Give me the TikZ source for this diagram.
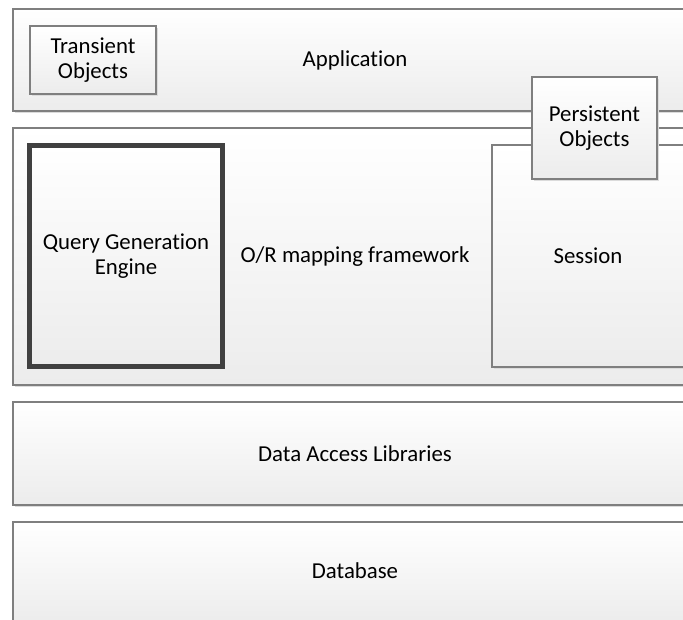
\documentclass[tikz,border=0pt]{standalone}
\usepackage{fontspec}
\setmainfont{Carlito}[Ligatures={NoCommon,NoContextual}]
\usetikzlibrary{shadows}
\definecolor{bord}{HTML}{7F7F7F}
\definecolor{qge}{HTML}{404040}
\definecolor{fillbot}{HTML}{ECECEC}
\tikzset{
  layer/.style={draw=bord, line width=1.2pt, top color=white, bottom color=fillbot,
    inner sep=0pt, outer sep=0pt, align=center,
    drop shadow={shadow xshift=2pt, shadow yshift=-2pt, fill=black!14, opacity=1}},
  thickbox/.style={layer, draw=qge, line width=5pt},
  lbl/.style={align=center, inner sep=0pt},
}
\begin{document}
\begin{tikzpicture}[x=1pt, y=-1pt, font=\fontsize{22.8}{25}\selectfont]
\useasboundingbox (0,0) rectangle (683,620);
\clip (0,0) rectangle (683,620);
% Application layer
\node[layer, minimum width=684pt, minimum height=102pt] (app) at (355,60) {};
\node[lbl] (apptxt) at (app.center) {Application};
\node[layer, minimum width=126pt, minimum height=68pt] (trans) at (93,60) {Transient\\Objects};
% O/R mapping framework
\node[layer, minimum width=684pt, minimum height=257pt] (orm) at (355,256.5) {};
\node[lbl] (ormtxt) at (orm.center) {O/R mapping framework};
\node[thickbox, minimum width=193pt, minimum height=221pt] (qge) at (126,256) {Query Generation\\Engine};
\node[layer, minimum width=192pt, minimum height=222pt] (sess) at (588,256) {Session};
\node[layer, minimum width=125pt, minimum height=102pt] (pers) at (594.5,128) {Persistent\\Objects};
% Data access
\node[layer, minimum width=684pt, minimum height=103pt] (dal) at (355,453.5) {Data Access Libraries};
% Database
\node[layer, minimum width=684pt, minimum height=102pt] (db) at (355,573) {};
\node[lbl] (dbtxt) at (355,571) {Database};
\end{tikzpicture}
\end{document}
